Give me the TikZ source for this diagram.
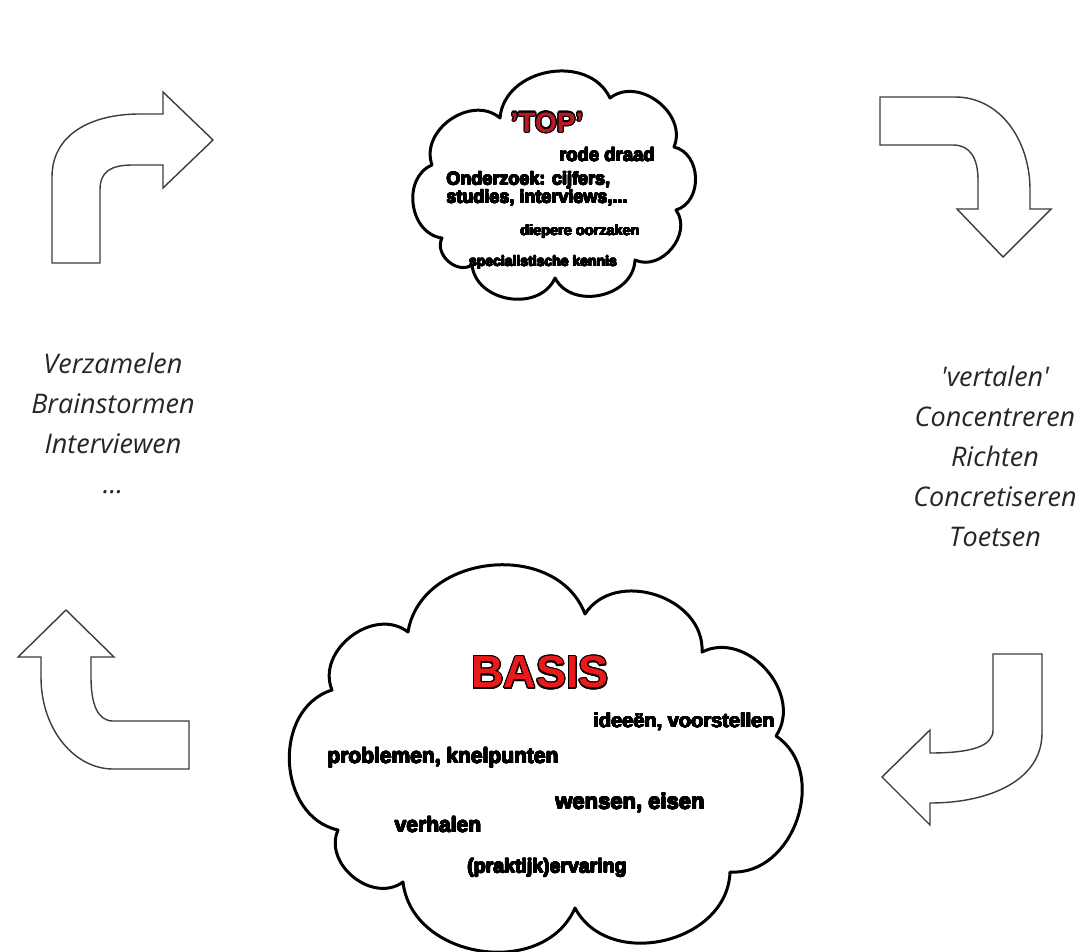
\documentclass[tikz,border=0pt]{standalone}
\usepackage{fontspec}
\setmainfont{Liberation Sans}
\newfontfamily\sidefont{Open Sans}
\usepackage[copies]{contour}
\contourlength{1.2pt}
\definecolor{topred}{RGB}{190,25,35}
\definecolor{basisred}{RGB}{235,25,25}
\definecolor{arrowgray}{RGB}{60,60,60}
\newcommand{\heavytxt}[1]{{\contourlength{0.45pt}\contour{black}{#1}}}
\tikzset{
  cloudline/.style={draw=black, line width=3pt, fill=white, line join=round},
  bumpL/.style={bend left=75, looseness=1.15},
  bumpR/.style={bend right=75, looseness=1.15},
  bentarrow/.style={draw=arrowgray, line width=1.4pt, fill=white, line join=miter},
  sidetext/.style={font=\sidefont\itshape\fontsize{27}{40}\selectfont, align=center, text=black!85},
  cloudtxt/.style={font=\bfseries, text=black, inner sep=0pt},
}
\begin{document}
\begin{tikzpicture}[x=1pt,y=-1pt]
\useasboundingbox (0,0) rectangle (1092,952);
\fill[white] (0,0) rectangle (1092,952);

% bent arrows
\draw[bentarrow] (52,263) -- (52,177) .. controls (52,135) and (90,114) .. (140,114) -- (163,114) -- (163,92) -- (213,140) -- (163,188) -- (163,165) -- (133,165) .. controls (110,165) and (100,172) .. (100,190) -- (100,263) -- cycle;
\draw[bentarrow] (880,97) -- (955,97) .. controls (1000,97) and (1030,140) .. (1030,190) -- (1030,209) -- (1051,209) -- (1003,257) -- (957,209) -- (978,209) -- (978,180) .. controls (978,158) and (970,145) .. (953,145) -- (880,145) -- cycle;
\draw[bentarrow] (66,610) -- (18,657) -- (41,657) -- (41,677) .. controls (41,730) and (75,769) .. (113,769) -- (189,769) -- (189,721) -- (113,721) .. controls (98,721) and (91,705) .. (91,677) -- (91,657) -- (114,657) -- cycle;
\draw[bentarrow] (993,654) -- (1042,654) -- (1042,733) .. controls (1042,780) and (990,803) .. (930,803) -- (930,825) -- (882,777) -- (930,730) -- (930,753) .. controls (975,753) and (993,745) .. (993,730) -- cycle;

% top cloud
\draw[cloudline] (432,165) to[bumpL] (500,118) to[bumpL] (610,98) to[bumpL] (674,147) to[bumpL] (676,210) to[bumpL] (635,260) to[bumpL] (555,278) to[bumpL] (472,265) to[bumpL] (442,238) to[bumpL] (432,165) -- cycle;

% bottom cloud
\draw[cloudline] (408,632) to[bumpR] (332,690) to[bumpR] (338,830) to[bumpR] (403,882) to[bumpR] (575,908) to[bumpR] (730,872) to[bumpR] (776,736) to[bumpR] (702,652) to[bumpR] (585,614) to[bumpR] (408,632) -- cycle;

% top cloud texts
\node[cloudtxt, font=\bfseries\fontsize{28}{28}\selectfont] (top) at (547,123) {\contour{black}{\textcolor{topred}{'TOP'}}};
\node[cloudtxt, font=\bfseries\fontsize{18.5}{18}\selectfont] (rode) at (607,155) {\heavytxt{rode draad}};
\node[cloudtxt, font=\bfseries\fontsize{18}{17}\selectfont, align=left] (onderzoek) at (537,189) {\heavytxt{Onderzoek: cijfers,}\\\heavytxt{studies, interviews,...}};
\node[cloudtxt, font=\bfseries\fontsize{14.5}{14}\selectfont] (diepere) at (580,232) {\heavytxt{diepere oorzaken}};
\node[cloudtxt, font=\bfseries\fontsize{14}{14}\selectfont] (kennis) at (543,263) {\heavytxt{specialistische kennis}};

% bottom cloud texts
\node[cloudtxt, font=\bfseries\fontsize{45}{45}\selectfont] (basis) at (540,673) {\contour{black}{\textcolor{basisred}{BASIS}}};
\node[cloudtxt, font=\bfseries\fontsize{20}{20}\selectfont] (ideeen) at (684,722) {\heavytxt{ideeën, voorstellen}};
\node[cloudtxt, font=\bfseries\fontsize{21}{21}\selectfont] (problemen) at (443,758) {\heavytxt{problemen, knelpunten}};
\node[cloudtxt, font=\bfseries\fontsize{22}{22}\selectfont] (wensen) at (630,803) {\heavytxt{wensen, eisen}};
\node[cloudtxt, font=\bfseries\fontsize{21}{21}\selectfont] (verhalen) at (438,825) {\heavytxt{verhalen}};
\node[cloudtxt, font=\bfseries\fontsize{19.5}{20}\selectfont] (ervaring) at (547,868) {\heavytxt{(praktijk)ervaring}};

% side texts
\node[sidetext] (left) at (113,423) {Verzamelen\\Brainstormen\\Interviewen\\...};
\node[sidetext] (right) at (995,456) {'vertalen'\\Concentreren\\Richten\\Concretiseren\\Toetsen};
\end{tikzpicture}
\end{document}
